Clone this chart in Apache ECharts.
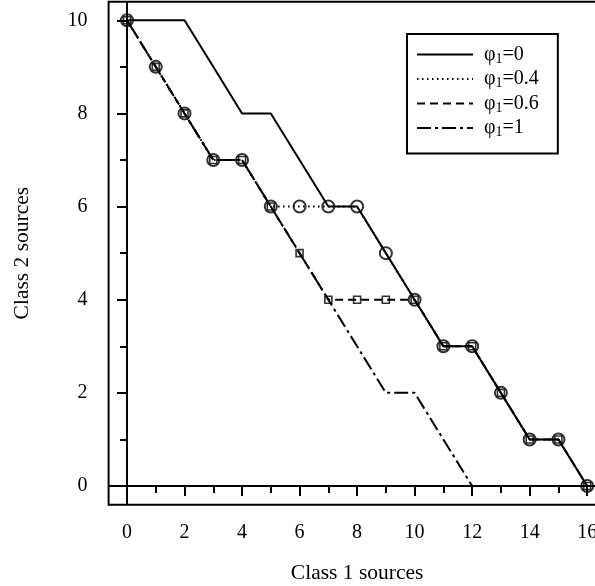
<!DOCTYPE html>
<html lang="en">
<head>
  <meta charset="UTF-8">
  <title>Class 1 vs Class 2 sources</title>
  <script src="https://cdn.jsdelivr.net/npm/echarts@6.0.0/dist/echarts.min.js"></script>
  <style>
    html, body, #main {
      margin: 0;
      padding: 0;
      width: 595px;
      height: 586px;
      background: #fff;
    }
  </style>
</head>
<body>
  <div id="main"></div>

  <script>
    // class 1 sources (x) and class 2 sources (y) for each phi1
    const class1 = [0, 1, 2, 3, 4, 5, 6, 7, 8, 9, 10, 11, 12, 13, 14, 15, 16];
    const phi0   = [10, 10, 10, 9, 8, 8, 7, 6, 6, 5, 4, 3, 3, 2, 1, 1, 0];
    const phi04  = [10, 9, 8, 7, 7, 6, 6, 6, 6, 5, 4, 3, 3, 2, 1, 1, 0];
    const phi06  = [10, 9, 8, 7, 7, 6, 5, 4, 4, 4, 4, 3, 3, 2, 1, 1, 0];
    const phi1   = [10, 9, 8, 7, 7, 6, 5, 4, 3, 2, 2, 1, 0, 0, 0, 0, 0];
    const legendLabels = ['0', '0.4', '0.6', '1'];

    const xLim = [-0.64, 16.64];
    const yLim = [-0.4, 10.4];
    const xMajor = [0, 2, 4, 6, 8, 10, 12, 14, 16];
    const xMinor = [1, 3, 5, 7, 9, 11, 13, 15];
    const yMajor = [0, 2, 4, 6, 8, 10];
    const yMinor = [1, 3, 5, 7, 9];

    const font = 'Liberation Serif';
    const names = ['phi0', 'phi04', 'phi06', 'phi1'];
    const pts = ys => class1.map((x, i) => [x, ys[i]]);

    const xBase = {
      type: 'value', min: xLim[0], max: xLim[1], position: 'bottom',
      axisLine: { show: false }, splitLine: { show: false }
    };
    const yBase = {
      type: 'value', min: yLim[0], max: yLim[1], position: 'left',
      axisLine: { show: false }, splitLine: { show: false }
    };
    const tickStyle = { color: '#000', width: 2 };

    const lineSeries = (name, data, type, z) => ({
      name: name,
      type: 'line',
      data: data,
      symbol: 'none',
      color: '#000',
      silent: true,
      lineStyle: { color: '#000', width: 2, type: type },
      z: z || 3
    });

    const chart = echarts.init(document.getElementById('main'));
    chart.setOption({
      animation: false,
      textStyle: { fontFamily: font },
      grid: {
        left: 108.6, top: 1.63, width: 497, height: 503,
        outerBoundsMode: 'none', containLabel: false,
        show: true, borderColor: '#000', borderWidth: 2
      },
      legend: {
        data: names,
        orient: 'vertical',
        left: 407, top: 34,
        padding: [9, 19, 14, 9],
        itemWidth: 56, itemHeight: 14, itemGap: 1.5,
        borderColor: '#000', borderWidth: 2,
        backgroundColor: '#fff',
        itemStyle: { color: 'rgba(0,0,0,0)', borderWidth: 0, opacity: 0 },
        formatter: function (name) {
          return '{a|φ}{s|1}{a|=' + legendLabels[names.indexOf(name)] + '}';
        },
        textStyle: {
          padding: [0, 0, 0, 6],
          rich: {
            a: { fontFamily: font, fontSize: 20, color: '#000', lineHeight: 22 },
            s: { fontFamily: font, fontSize: 14, color: '#000', lineHeight: 22, padding: [9, 0, 0, 0] }
          }
        }
      },
      xAxis: [
        Object.assign({}, xBase, {
          name: 'Class 1 sources', nameLocation: 'middle', nameGap: 58,
          nameTextStyle: { fontFamily: font, fontSize: 21.5, color: '#000' },
          axisTick: { show: true, length: 10, lineStyle: tickStyle, customValues: xMajor },
          axisLabel: { customValues: xMajor, margin: 18, fontFamily: font, fontSize: 20, color: '#000' }
        }),
        Object.assign({}, xBase, {
          axisTick: { show: true, length: 7, lineStyle: tickStyle, customValues: xMinor },
          axisLabel: { show: false }
        })
      ],
      yAxis: [
        Object.assign({}, yBase, {
          name: 'Class 2 sources', nameLocation: 'middle', nameGap: 75, nameRotate: 90,
          nameTextStyle: { fontFamily: font, fontSize: 21.5, color: '#000' },
          axisTick: { show: true, length: 10, lineStyle: tickStyle, customValues: yMajor },
          axisLabel: { customValues: yMajor, margin: 21, fontFamily: font, fontSize: 20, color: '#000' }
        }),
        Object.assign({}, yBase, {
          axisTick: { show: true, length: 7, lineStyle: tickStyle, customValues: yMinor },
          axisLabel: { show: false }
        })
      ],
      series: [
        lineSeries('phi0', pts(phi0), 'solid'),
        lineSeries('phi04', pts(phi04), [1.5, 3.5]),
        lineSeries('phi06', pts(phi06), [8, 5]),
        lineSeries('phi1', pts(phi1), [14, 4, 3, 4]),
        {
          name: 'circles', type: 'scatter', data: pts(phi04),
          symbol: 'circle', symbolSize: 12,
          itemStyle: { color: 'rgba(0,0,0,0)', borderColor: '#000', borderWidth: 2 },
          z: 4
        },
        {
          name: 'squares', type: 'scatter', data: pts(phi06),
          symbol: 'rect', symbolSize: 7,
          itemStyle: { color: 'rgba(0,0,0,0)', borderColor: '#000', borderWidth: 1.6 },
          z: 4
        },
        // reference lines at x = 0 and y = 0
        lineSeries('vline', [[0, yLim[0]], [0, yLim[1]]], 'solid', 5),
        lineSeries('hline', [[xLim[0], 0], [xLim[1], 0]], 'solid', 5)
      ]
    });
  </script>
</body>
</html>
